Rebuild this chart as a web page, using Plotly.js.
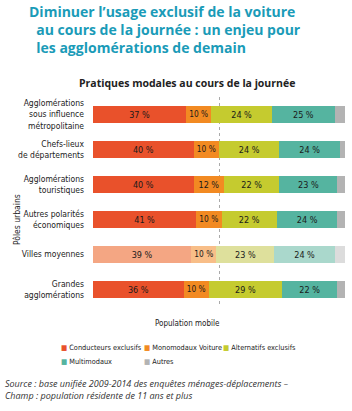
<!DOCTYPE html>
<html><head><meta charset="utf-8">
<script src="https://cdn.plot.ly/plotly-3.0.1.min.js"></script>
<style>html,body{margin:0;padding:0;background:#fff}#chart{width:352px;height:411px}</style>
</head><body><div id="chart"></div>
<script>
const categories = [
  "Agglomérations<br>sous influence<br>métropolitaine",
  "Chefs-lieux<br>de départements",
  "Agglomérations<br>touristiques",
  "Autres polarités<br>économiques",
  "Villes moyennes",
  "Grandes<br>agglomérations"
];
const conducteurs = [37, 40, 40, 41, 39, 36];
const monomodaux  = [10, 10, 12, 10, 10, 10];
const alternatifs = [24, 24, 22, 22, 23, 29];
const multimodaux = [25, 24, 23, 24, 24, 22];
const autres      = [4, 2, 3, 3, 4, 3];
const seriesNames = ["Conducteurs exclusifs", "Monomodaux Voiture", "Alternatifs exclusifs", "Multimodaux", "Autres"];
const highlightedRow = "Villes moyennes";

const colors = ["#E9512B", "#F28A22", "#C5CB2F", "#55B4A0", "#B3B3B3"];
const faded  = ["#F4A683", "#F8BE88", "#DEE09C", "#AAD8CC", "#DCDCDC"];
const FONT = "'DejaVu Sans Condensed', sans-serif";

const data = [conducteurs, monomodaux, alternatifs, multimodaux, autres].map((vals, i) => ({
  type: 'bar', orientation: 'h',
  y: categories, x: vals, name: seriesNames[i],
  width: 0.51,
  marker: {color: categories.map(c => c === highlightedRow ? faded[i] : colors[i]), line: {width: 0}},
  text: i < 4 ? vals.map(v => v + ' %') : undefined,
  textposition: i < 4 ? 'inside' : 'none',
  insidetextanchor: 'middle',
  textfont: {family: FONT, size: 9, color: '#1a1a1a'},
  hoverinfo: 'skip', showlegend: false
}));

const px = (x) => (x - 93) / 252;
const py = (y) => 1 - (y - 97) / 210;

const annotations = [{
  text: "<b>Diminuer l’usage exclusif de la voiture<br>\u00a0\u00a0au cours de la journée : un enjeu pour<br>\u00a0\u00a0les agglomérations de demain</b>",
  xref: 'paper', yref: 'paper', showarrow: false, align: 'left',
  x: px(27), y: py(29), xanchor: 'left', yanchor: 'middle',
  font: {family: "'Open Sans', sans-serif", size: 14, color: '#1A9BB8'}
}];

annotations.push({
  text: "<b>Pratiques modales au cours de la journée</b>", xref: 'paper', yref: 'paper', showarrow: false,
  x: px(187), y: py(83), xanchor: 'center', yanchor: 'middle',
  font: {family: "'Open Sans', sans-serif", size: 10.5, color: '#222'}
});
annotations.push({
  text: "Population mobile", xref: 'paper', yref: 'paper', showarrow: false,
  x: px(187), y: py(323), xanchor: 'center', yanchor: 'middle',
  font: {family: FONT, size: 8, color: '#222'}
});
annotations.push({
  text: "Pôles urbains", xref: 'paper', yref: 'paper', showarrow: false, textangle: -90,
  x: px(17), y: py(220), xanchor: 'center', yanchor: 'middle',
  font: {family: FONT, size: 8.5, color: '#222'}
});
// legend
const legendPos = [[59, 347], [142, 347], [221, 347], [59, 361], [142, 361]];
seriesNames.forEach((n, i) => {
  annotations.push({
    text: `<span style="color:${colors[i]}">■</span> ${n}`, xref: 'paper', yref: 'paper', showarrow: false,
    x: px(legendPos[i][0]), y: py(legendPos[i][1]), xanchor: 'left', yanchor: 'middle',
    font: {family: FONT, size: 7.3, color: '#222'}
  });
});
annotations.push({
  text: "<i>Source : base unifiée 2009-2014 des enquêtes ménages-déplacements –<br>Champ : population résidente de 11 ans et plus</i>",
  xref: 'paper', yref: 'paper', showarrow: false, align: 'left',
  x: px(3), y: py(389), xanchor: 'left', yanchor: 'middle',
  font: {family: "'Open Sans', sans-serif", size: 9, color: '#333'}
});

const layout = {
  width: 352, height: 411,
  margin: {l: 93, r: 7, t: 97, b: 104},
  barmode: 'stack', bargap: 0.49,
  paper_bgcolor: '#fff', plot_bgcolor: '#fff',
  xaxis: {range: [0, 100], tickvals: [0, 50, 100], showticklabels: false, showgrid: true,
    gridcolor: '#aaaaaa', griddash: 'dot', gridwidth: 1, zeroline: false, showline: false, ticks: '', fixedrange: true},
  yaxis: {autorange: 'reversed', showgrid: false, zeroline: false, showline: false, ticks: '',
    ticklabelstandoff: 8,
    tickfont: {family: FONT, size: 8.5, color: '#222'}},
  annotations: annotations,
  showlegend: false
};

Plotly.newPlot('chart', data, layout, {displayModeBar: false, staticPlot: true});
</script></body></html>
